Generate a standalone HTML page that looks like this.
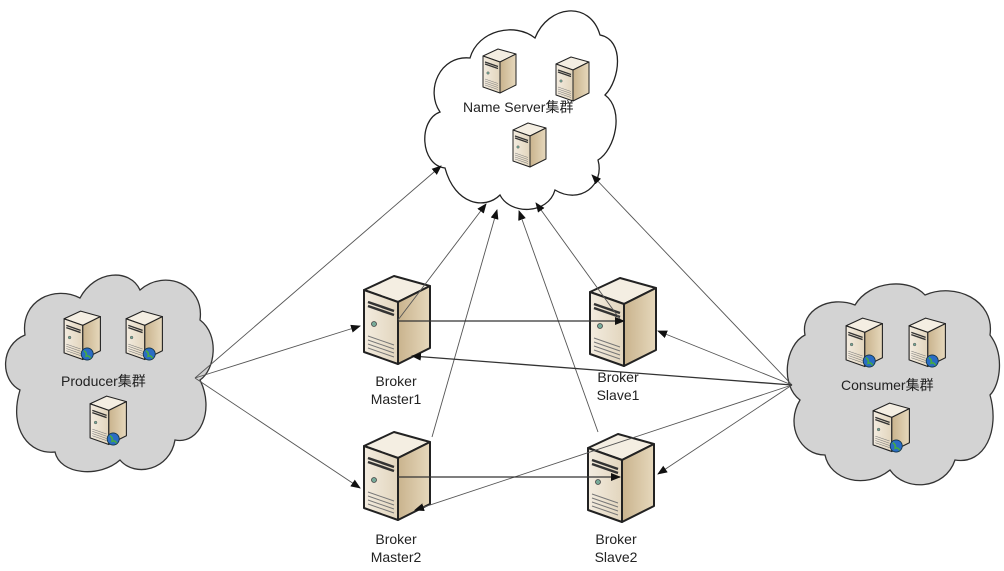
<!DOCTYPE html>
<html><head><meta charset="utf-8"><style>
html,body{margin:0;padding:0;background:#fff;}
svg{display:block}
text{font-family:"Liberation Sans","Noto Sans CJK SC",sans-serif;fill:#222}
</style></head><body>
<svg width="1004" height="571" viewBox="0 0 1004 571" xmlns="http://www.w3.org/2000/svg">
<defs>
<linearGradient id="fr" x1="0" x2="1"><stop offset="0" stop-color="#f3ece0"/><stop offset="1" stop-color="#e2d5bd"/></linearGradient>
<linearGradient id="sd" x1="0" x2="1"><stop offset="0" stop-color="#c9b38d"/><stop offset="1" stop-color="#e6d8bc"/></linearGradient>
<g id="srv">
<polygon points="2,16 36,28 68,12 32,2" fill="#f4eee2" stroke="#222" stroke-width="2" stroke-linejoin="round"/>
<polygon points="2,16 36,28 36,90 2,78" fill="url(#fr)" stroke="#222" stroke-width="2" stroke-linejoin="round"/>
<polygon points="36,28 68,12 68,74 36,90" fill="url(#sd)" stroke="#222" stroke-width="2" stroke-linejoin="round"/>
<path d="M6,28 L32,37 M6,32 L32,41" stroke="#333" stroke-width="2.5"/>
<circle cx="12" cy="50" r="2.5" fill="#7a9" stroke="#444" stroke-width="0.8"/>
<path d="M6,62 L32,71 M6,66 L32,75 M6,70 L32,79 M6,74 L32,83" stroke="#777" stroke-width="1"/>
</g>
<g id="web">
<use href="#srv"/>
<circle cx="44" cy="80" r="11" fill="#2a6cc4" stroke="#134" stroke-width="1.5"/>
<path d="M38,74 q6,4 4,10 q6,-2 8,4" stroke="#4a4" stroke-width="3" fill="none"/>
</g>
<marker id="ar" markerWidth="10" markerHeight="8" refX="9" refY="4" orient="auto" markerUnits="userSpaceOnUse"><path d="M0,0 L10,4 L0,8 z" fill="#111"/></marker>
</defs>

<path d="M445,168 C420,165 418,120 440,112 C425,90 440,55 470,58 C478,30 515,22 535,38 C548,5 590,0 600,35 C625,40 620,80 605,95 C625,110 615,150 598,160 C605,185 580,205 555,190 C548,215 510,215 500,195 C485,210 455,205 445,168 Z" fill="#fff" stroke="#222" stroke-width="1.3"/>
<path d="M20,390 C0,380 0,345 25,335 C20,300 55,285 80,298 C95,270 130,268 140,290 C165,268 205,285 200,320 C220,335 215,370 200,380 C215,410 200,445 175,440 C170,470 135,478 120,460 C100,478 60,475 55,452 C30,455 8,430 20,390 Z" fill="#d3d3d3" stroke="#333" stroke-width="1.3"/>
<path d="M800,400 C780,385 785,345 805,335 C800,310 830,295 855,305 C870,280 910,278 925,295 C955,282 995,300 990,335 C1005,355 1000,385 990,395 C1000,430 985,465 955,460 C945,490 905,492 890,470 C865,490 830,480 825,455 C800,455 785,425 800,400 Z" fill="#d3d3d3" stroke="#333" stroke-width="1.3"/>

<use href="#srv" x="362" y="274"/>
<use href="#srv" x="588" y="276"/>
<use href="#srv" x="362" y="430"/>
<use href="#srv" x="586" y="432"/>

<use href="#srv" transform="translate(482,48) scale(0.5)"/>
<use href="#srv" transform="translate(555,56) scale(0.5)"/>
<use href="#srv" transform="translate(512,122) scale(0.5)"/>
<use href="#web" transform="translate(63,310) scale(0.55)"/>
<use href="#web" transform="translate(125,310) scale(0.55)"/>
<use href="#web" transform="translate(89,395) scale(0.55)"/>
<use href="#web" transform="translate(845,317) scale(0.55)"/>
<use href="#web" transform="translate(908,317) scale(0.55)"/>
<use href="#web" transform="translate(872,402) scale(0.55)"/>

<g stroke="#555" stroke-width="0.9" fill="none" marker-end="url(#ar)">
<line x1="195" y1="378" x2="441" y2="166"/>
<line x1="195" y1="378" x2="360" y2="326"/>
<line x1="195" y1="378" x2="360" y2="488"/>
<line x1="398" y1="320" x2="486" y2="204"/>
<line x1="432" y1="437" x2="497" y2="210"/>
<line x1="598" y1="432" x2="519" y2="211"/>
<line x1="622" y1="322" x2="536" y2="203"/>
<line x1="792" y1="385" x2="592" y2="175"/>
<line x1="792" y1="385" x2="658" y2="331"/>
<line x1="792" y1="385" x2="658" y2="474"/>
<line x1="792" y1="385" x2="415" y2="510"/>
</g>
<g stroke="#333" stroke-width="1.3" fill="none" marker-end="url(#ar)">
<line x1="398" y1="321" x2="624" y2="321"/>
<line x1="398" y1="477" x2="620" y2="477"/>
<line x1="792" y1="385" x2="412" y2="356"/>
</g>

<text x="463" y="112" font-size="14">Name Server集群</text>
<text x="61" y="386" font-size="14">Producer集群</text>
<text x="841" y="390" font-size="14">Consumer集群</text>
<text x="396" y="386" font-size="14" text-anchor="middle">Broker</text>
<text x="396" y="404" font-size="14" text-anchor="middle">Master1</text>
<text x="618" y="382" font-size="14" text-anchor="middle">Broker</text>
<text x="618" y="400" font-size="14" text-anchor="middle">Slave1</text>
<text x="396" y="544" font-size="14" text-anchor="middle">Broker</text>
<text x="396" y="562" font-size="14" text-anchor="middle">Master2</text>
<text x="616" y="544" font-size="14" text-anchor="middle">Broker</text>
<text x="616" y="562" font-size="14" text-anchor="middle">Slave2</text>
</svg>
</body></html>
